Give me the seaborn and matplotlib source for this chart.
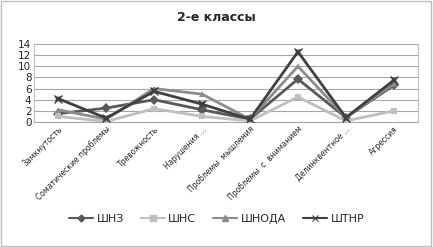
import matplotlib
matplotlib.use("Agg")
import matplotlib.pyplot as plt
import seaborn as sns
import pandas as pd

categories = ["Замкнутость", "Соматические проблемы", "Тревожность", "Нарушения ...",
              "Проблемы  мышления", "Проблемы  с  вниманием", "Делинквентное ...", "Агрессия"]
shnz = [1.5, 2.5, 4.0, 2.2, 0.5, 7.7, 0.8, 6.6]
shns = [1.0, 0.1, 2.4, 1.0, 0.2, 4.5, 0.2, 2.0]
shnoda = [2.2, 0.5, 6.0, 5.0, 0.5, 10.0, 0.8, 6.9]
shtnr = [4.2, 0.7, 5.5, 3.2, 0.5, 12.6, 0.8, 7.5]
series_names = ["ШНЗ", "ШНС", "ШНОДА", "ШТНР"]
y_ticks = [0, 2, 4, 6, 8, 10, 12, 14]

rows = []
for name, vals in zip(series_names, [shnz, shns, shnoda, shtnr]):
    for i, (c, v) in enumerate(zip(categories, vals)):
        rows.append({"pos": i, "cat": c, "value": v, "series": name})
df = pd.DataFrame(rows)

sns.set_style("white")
plt.rcParams['font.family'] = ['DejaVu Sans']

fig = plt.figure(figsize=(4.33, 2.47), dpi=100)
ax = fig.add_axes([0.079, 0.506, 0.886, 0.316])

palette = {"ШНЗ": "#595959", "ШНС": "#bfbfbf", "ШНОДА": "#8c8c8c", "ШТНР": "#404040"}
markers = {"ШНЗ": "D", "ШНС": "s", "ШНОДА": "^", "ШТНР": "X"}
sns.lineplot(data=df, x="pos", y="value", hue="series", style="series",
             palette=palette, markers=markers, dashes=False, linewidth=2,
             markersize=5, markeredgewidth=0, ax=ax, legend=False, zorder=3)
sub = df[df.series == "ШТНР"]
ax.plot(sub["pos"], sub["value"], linestyle="none", marker="x", color="#404040",
        markersize=6, markeredgewidth=1, zorder=4)

ax.set_xlim(-0.5, len(categories) - 0.5)
ax.set_ylim(0, 14)
ax.set_yticks(y_ticks)
ax.set_yticklabels([str(t) for t in y_ticks], fontsize=7.5)
ax.set_xticks(range(len(categories)))
ax.set_xticklabels(categories, rotation=45, ha="right", rotation_mode="anchor", fontsize=5.5)
ax.tick_params(axis="both", length=0, pad=2)
ax.set_xlabel("")
ax.set_ylabel("")
ax.grid(axis="y", color="#a6a6a6", linewidth=0.8)
ax.set_axisbelow(True)
for s in ["left", "right"]:
    ax.spines[s].set_color("#bfbfbf")
    ax.spines[s].set_linewidth(0.8)
ax.spines["top"].set_visible(False)
ax.spines["bottom"].set_color("#a6a6a6")

fig.text(0.5, 0.93, "2-е классы", ha="center", va="center", fontsize=9, fontweight="bold")

from matplotlib.lines import Line2D
handles = [
    Line2D([], [], color="#595959", marker="D", markersize=3.5, linewidth=1.5),
    Line2D([], [], color="#bfbfbf", marker="s", markersize=4, linewidth=1.5),
    Line2D([], [], color="#8c8c8c", marker="^", markersize=4.5, linewidth=1.5),
    Line2D([], [], color="#404040", marker="x", markersize=5, markeredgewidth=0.8, linewidth=1.5),
]
fig.legend(handles, series_names, loc="center", bbox_to_anchor=(0.5, 0.115), ncol=4,
           frameon=False, fontsize=8, handlelength=2.2, handletextpad=0.3, columnspacing=1.5)

border = plt.Rectangle((0.002, 0.004), 0.994, 0.99, transform=fig.transFigure,
                       fill=False, edgecolor="#bfbfbf", linewidth=1)
fig.patches.append(border)

fig.savefig("out.png", dpi=100)
